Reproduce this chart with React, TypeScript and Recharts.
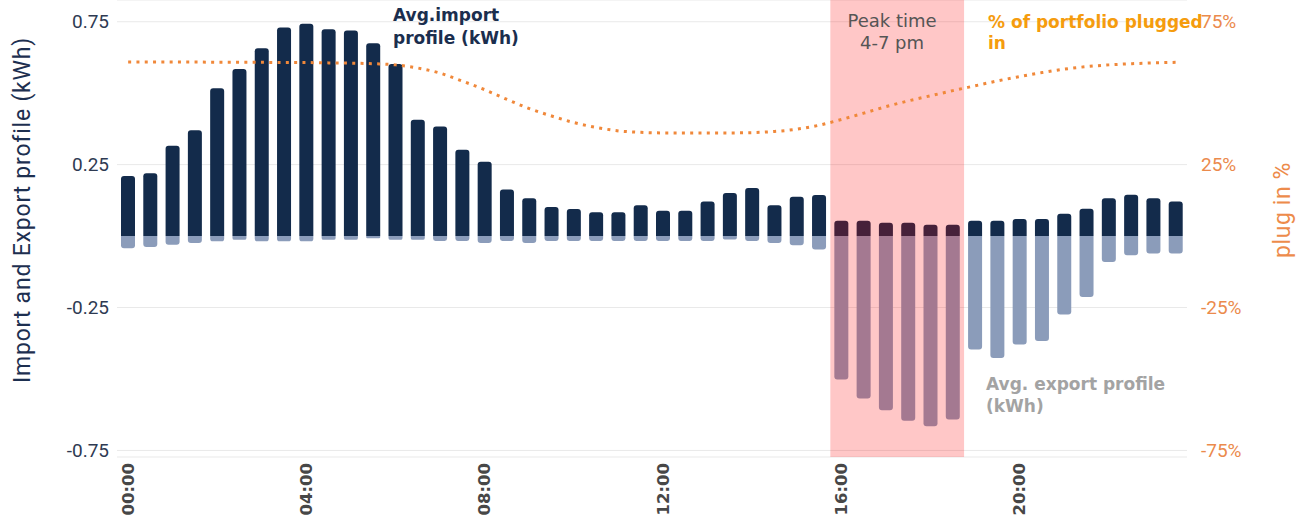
import {
  Bar,
  CartesianGrid,
  ComposedChart,
  Line,
  ReferenceArea,
  XAxis,
  YAxis,
} from "recharts";

// half-hour slots
const times = [
  "00:00", "00:30", "01:00", "01:30", "02:00", "02:30", "03:00", "03:30",
  "04:00", "04:30", "05:00", "05:30", "06:00", "06:30", "07:00", "07:30",
  "08:00", "08:30", "09:00", "09:30", "10:00", "10:30", "11:00", "11:30",
  "12:00", "12:30", "13:00", "13:30", "14:00", "14:30", "15:00", "15:30",
  "16:00", "16:30", "17:00", "17:30", "18:00", "18:30", "19:00", "19:30",
  "20:00", "20:30", "21:00", "21:30", "22:00", "22:30", "23:00", "23:30",
];

// avg import (kWh)
const importKwh = [
  0.21, 0.22, 0.316, 0.37, 0.517, 0.585, 0.657, 0.73,
  0.743, 0.724, 0.719, 0.675, 0.602, 0.407, 0.383, 0.302,
  0.26, 0.163, 0.132, 0.102, 0.095, 0.083, 0.083, 0.108,
  0.089, 0.089, 0.121, 0.151, 0.168, 0.108, 0.138, 0.144,
  0.054, 0.054, 0.047, 0.047, 0.04, 0.04, 0.054, 0.054,
  0.06, 0.06, 0.078, 0.096, 0.132, 0.145, 0.132, 0.121,
];

// avg export (kWh), negative
const exportKwh = [
  -0.043, -0.038, -0.03, -0.024, -0.018, -0.013, -0.018, -0.018,
  -0.018, -0.013, -0.013, -0.008, -0.013, -0.013, -0.017, -0.017,
  -0.024, -0.017, -0.024, -0.017, -0.017, -0.017, -0.017, -0.017,
  -0.017, -0.017, -0.017, -0.012, -0.017, -0.024, -0.032, -0.047,
  -0.502, -0.568, -0.609, -0.646, -0.665, -0.642, -0.397, -0.427,
  -0.379, -0.367, -0.274, -0.213, -0.091, -0.067, -0.061, -0.061,
];

// % of portfolio plugged in
const pluggedPct = [
  60.9, 60.9, 60.9, 60.9, 60.8, 60.8, 60.8, 60.7,
  60.7, 60.6, 60.5, 60.3, 59.9, 58.8, 57.0, 54.2,
  51.2, 47.8, 44.6, 42.0, 39.7, 38.0, 36.8, 36.3,
  36.1, 36.1, 36.1, 36.1, 36.2, 36.6, 37.4, 38.8,
  40.8, 43.0, 45.3, 47.3, 49.1, 50.9, 52.6, 54.3,
  55.8, 57.2, 58.4, 59.3, 59.9, 60.3, 60.6, 60.8,
];

const kwhTicks = [-0.75, -0.25, 0.25, 0.75];
const pctTicks = [-75, -25, 25, 75];

const data = times.map((time, i) => ({
  time,
  imp: importKwh[i],
  exp: exportKwh[i],
  plug: pluggedPct[i],
}));

function TimeTick({ x, y, payload }: any) {
  return (
    <text
      x={x}
      y={y}
      transform={`rotate(-90, ${x}, ${y})`}
      textAnchor="end"
      dominantBaseline="central"
      fill="#474747"
      fontFamily="DejaVu Sans"
      fontWeight={700}
      fontSize={16.5}
    >
      {payload.value}
    </text>
  );
}

const note = (extra: React.CSSProperties): React.CSSProperties => ({
  position: "absolute",
  fontFamily: "DejaVu Sans",
  whiteSpace: "pre",
  ...extra,
});

export default function App() {
  return (
    <div style={{ position: "absolute", left: 0, top: 0, width: 1300, height: 517, background: "#fff" }}>
      <ComposedChart
        width={1300}
        height={517}
        data={data}
        stackOffset="sign"
        margin={{ top: 0, right: 0, bottom: 0, left: 0 }}
      >
        <CartesianGrid yAxisId="left" vertical={false} stroke="#e9e9e9" />
        <XAxis
          dataKey="time"
          height={60}
          interval={7}
          axisLine={false}
          tickLine={false}
          tickSize={4}
          tickMargin={2}
          tick={<TimeTick />}
        />
        <YAxis
          yAxisId="left"
          width={117}
          domain={[-0.773, 0.826]}
          ticks={kwhTicks}
          axisLine={false}
          tickLine={false}
          tick={{ fill: "#2e3a52", fontSize: 19, fontFamily: "Roboto" }}
        />
        <YAxis
          yAxisId="right"
          orientation="right"
          width={113}
          domain={[-77.3, 82.6]}
          ticks={pctTicks}
          axisLine={false}
          tickLine={false}
          tickMargin={8}
          tickFormatter={(v) => `${v}%`}
          tick={{ fill: "#eb8a4c", fontSize: 19, fontFamily: "Roboto" }}
        />
        <Bar
          yAxisId="left"
          dataKey="imp"
          stackId="s"
          barSize={14}
          fill="#132b4b"
          radius={[3, 3, 0, 0]}
          isAnimationActive={false}
        />
        <Bar
          yAxisId="left"
          dataKey="exp"
          stackId="s"
          barSize={14}
          fill="#8b9cba"
          radius={[3, 3, 0, 0]}
          isAnimationActive={false}
        />
        <ReferenceArea
          yAxisId="left"
          x1="16:00"
          x2="18:30"
          fill="#ff0000"
          fillOpacity={0.22}
          stroke="none"
          zIndex={350}
        />
        <Line
          yAxisId="right"
          dataKey="plug"
          type="monotone"
          stroke="#f0883a"
          strokeWidth={3}
          strokeDasharray="3 5.3"
          dot={false}
          activeDot={false}
          isAnimationActive={false}
        />
      </ComposedChart>

      <div style={note({ left: 393, top: 4, fontSize: 17, lineHeight: "23px", fontWeight: 700, color: "#1b2e4e" })}>
        {"Avg.import\nprofile (kWh)"}
      </div>
      <div style={note({ left: 842, top: 10, width: 100, textAlign: "center", fontSize: 18, lineHeight: "22px", color: "#555" })}>
        {"Peak time\n4-7 pm"}
      </div>
      <div style={note({ left: 988, top: 12, fontSize: 17, lineHeight: "21px", fontWeight: 700, color: "#f59c0e" })}>
        {"% of portfolio plugged\nin"}
      </div>
      <div style={note({ left: 986, top: 373, fontSize: 17, lineHeight: "22px", fontWeight: 700, color: "#a3a3a3" })}>
        {"Avg. export profile\n(kWh)"}
      </div>
      <div
        style={{
          position: "absolute",
          left: 22,
          top: 210,
          transform: "translate(-50%, -50%) rotate(-90deg)",
          whiteSpace: "nowrap",
          fontFamily: "Roboto",
          fontSize: 23,
          letterSpacing: 0.8,
          color: "#1d2f50",
        }}
      >
        Import and Export profile (kWh)
      </div>
      <div
        style={{
          position: "absolute",
          left: 1282,
          top: 210,
          transform: "translate(-50%, -50%) rotate(-90deg)",
          whiteSpace: "nowrap",
          fontFamily: "Roboto",
          fontSize: 23,
          letterSpacing: 0.6,
          color: "#ed8b4b",
        }}
      >
        plug in %
      </div>
    </div>
  );
}
